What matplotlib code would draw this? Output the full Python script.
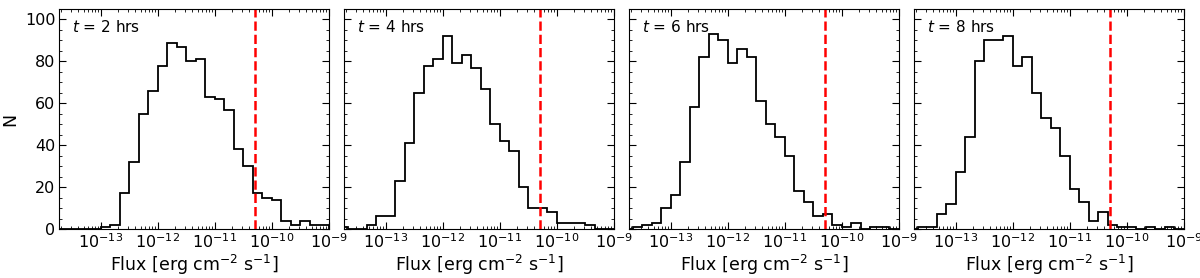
import numpy as np
import matplotlib
matplotlib.use('Agg')
import matplotlib.pyplot as plt
from matplotlib.ticker import MultipleLocator, LogLocator

# bin edges in log10(flux), 6 bins per decade, from 10^-13.83 to 10^-9
log_edges = np.arange(-83, -53) / 6.0

times = [2, 4, 6, 8]

counts_2h = [0, 0, 0, 0, 0, 1, 2, 17, 32, 55, 66, 78, 89, 87, 80, 81, 63, 62, 57, 38,
             30, 17, 15, 14, 4, 2, 4, 2, 2]
counts_4h = [1, 0, 0, 2, 6, 6, 23, 41, 65, 78, 81, 92, 79, 83, 77, 67, 50, 42, 37, 20,
             10, 10, 8, 3, 3, 3, 2, 0, 0]
counts_6h = [0, 1, 2, 3, 10, 16, 32, 58, 82, 93, 90, 79, 86, 82, 61, 50, 44, 35, 18, 13,
             6, 7, 2, 1, 3, 0, 1, 1, 0]
counts_8h = [0, 1, 1, 7, 12, 27, 44, 80, 90, 90, 92, 78, 82, 65, 53, 48, 35, 19, 13, 4,
             8, 2, 1, 1, 0, 1, 0, 1, 0]

all_counts = [counts_2h, counts_4h, counts_6h, counts_8h]

flux_limit = 5e-11

fig, axes = plt.subplots(1, 4, figsize=(12, 2.78), dpi=100, sharey=True)
fig.subplots_adjust(left=59/1200, right=1184/1200, bottom=1-229/278, top=1-9/278,
                    wspace=15/270)

edges = 10**log_edges
for ax, t, c in zip(axes, times, all_counts):
    ax.stairs(c, edges, color='k', lw=1.3)
    ax.axvline(flux_limit, color='red', ls='--', lw=1.8)
    ax.set_xscale('log')
    ax.set_xlim(1.85e-14, 1e-9)
    ax.set_ylim(0, 105)
    ax.xaxis.set_major_locator(LogLocator(base=10, numticks=10))
    ax.xaxis.set_minor_locator(LogLocator(base=10, subs=np.arange(2, 10), numticks=20))
    ax.yaxis.set_major_locator(MultipleLocator(20))
    ax.yaxis.set_minor_locator(MultipleLocator(5))
    ax.tick_params(which='both', direction='in', top=True, right=True, labelsize=11.5)
    ax.tick_params(which='major', length=5, pad=2.5)
    ax.tick_params(which='minor', length=2.5)
    ax.text(0.05, 0.92, r'$t$ = %d hrs' % t, transform=ax.transAxes,
            fontsize=11, va='center')
    ax.set_xlabel(r'Flux [erg cm$^{-2}$ s$^{-1}$]', fontsize=12.5, labelpad=1)

axes[0].set_ylabel('N', fontsize=12.5)

plt.savefig('out.png', dpi=100)
